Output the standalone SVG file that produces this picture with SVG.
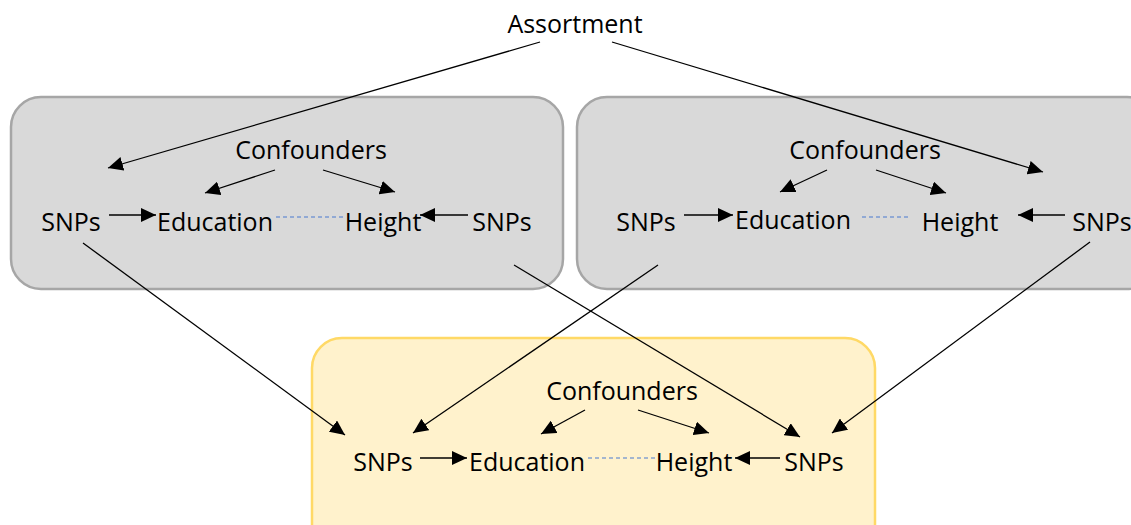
<svg xmlns="http://www.w3.org/2000/svg" width="1131" height="525" viewBox="0 0 1131 525">
<defs>
<marker id="ah" markerUnits="userSpaceOnUse" markerWidth="16" markerHeight="14" refX="15" refY="7" orient="auto"><path d="M0,0 L15,7 L0,14 z" fill="#000"/></marker>
<style>
text{font-family:"Open Sans","Liberation Sans",sans-serif;font-size:25px;fill:#000;text-anchor:middle}
.grey{fill:#d9d9d9;stroke:#a6a6a6;stroke-width:2.5}
.yel{fill:#fff2cc;stroke:#ffd966;stroke-width:2.5}
.a{stroke:#000;stroke-width:1.3;fill:none;marker-end:url(#ah)}
.d{stroke:#4a7bd0;stroke-width:1.2;stroke-dasharray:4,3;fill:none}
</style>
</defs>
<rect width="1131" height="525" fill="#fff"/>
<g id="box-left"><rect class="grey" x="11" y="97" width="552" height="192" rx="30"/></g>
<g id="box-right"><rect class="grey" x="577" y="97" width="580" height="192" rx="30"/></g>
<g id="box-bottom"><rect class="yel" x="312" y="338" width="563" height="220" rx="30"/></g>
<g id="assortment"><text x="575" y="33">Assortment</text></g>
<g id="left-nodes">
<text x="311" y="159">Confounders</text>
<text x="71" y="231">SNPs</text>
<text x="215" y="231">Education</text>
<text x="383" y="231">Height</text>
<text x="502" y="231">SNPs</text>
</g>
<g id="right-nodes">
<text x="865" y="159">Confounders</text>
<text x="646" y="231">SNPs</text>
<text x="793" y="229">Education</text>
<text x="960" y="231">Height</text>
<text x="1102" y="231">SNPs</text>
</g>
<g id="bottom-nodes">
<text x="622" y="400">Confounders</text>
<text x="383" y="471">SNPs</text>
<text x="527" y="471">Education</text>
<text x="694" y="471">Height</text>
<text x="814" y="471">SNPs</text>
</g>
<g id="connectors">
<line class="a" x1="540" y1="42" x2="108" y2="168"/>
<line class="a" x1="612" y1="42" x2="1043" y2="172"/>
<line class="a" x1="275" y1="170" x2="205" y2="193"/>
<line class="a" x1="323" y1="170" x2="395" y2="192"/>
<line class="a" x1="109" y1="215" x2="156" y2="215"/>
<line class="a" x1="468" y1="215" x2="420" y2="215"/>
<line class="d" x1="276" y1="217" x2="345" y2="217"/>
<line class="a" x1="827" y1="170" x2="780" y2="192"/>
<line class="a" x1="876" y1="170" x2="946" y2="193"/>
<line class="a" x1="684" y1="215" x2="733" y2="215"/>
<line class="a" x1="1065" y1="215" x2="1018" y2="215"/>
<line class="d" x1="862" y1="217" x2="910" y2="217"/>
<line class="a" x1="585" y1="410" x2="541" y2="434"/>
<line class="a" x1="638" y1="410" x2="709" y2="433"/>
<line class="a" x1="420" y1="458" x2="467" y2="458"/>
<line class="a" x1="780" y1="458" x2="735" y2="458"/>
<line class="d" x1="588" y1="458" x2="656" y2="458"/>
<line class="a" x1="83" y1="243" x2="345" y2="435"/>
<line class="a" x1="514" y1="265" x2="800" y2="437"/>
<line class="a" x1="658" y1="265" x2="413" y2="433"/>
<line class="a" x1="1090" y1="242" x2="832" y2="433"/>
</g>
</svg>
